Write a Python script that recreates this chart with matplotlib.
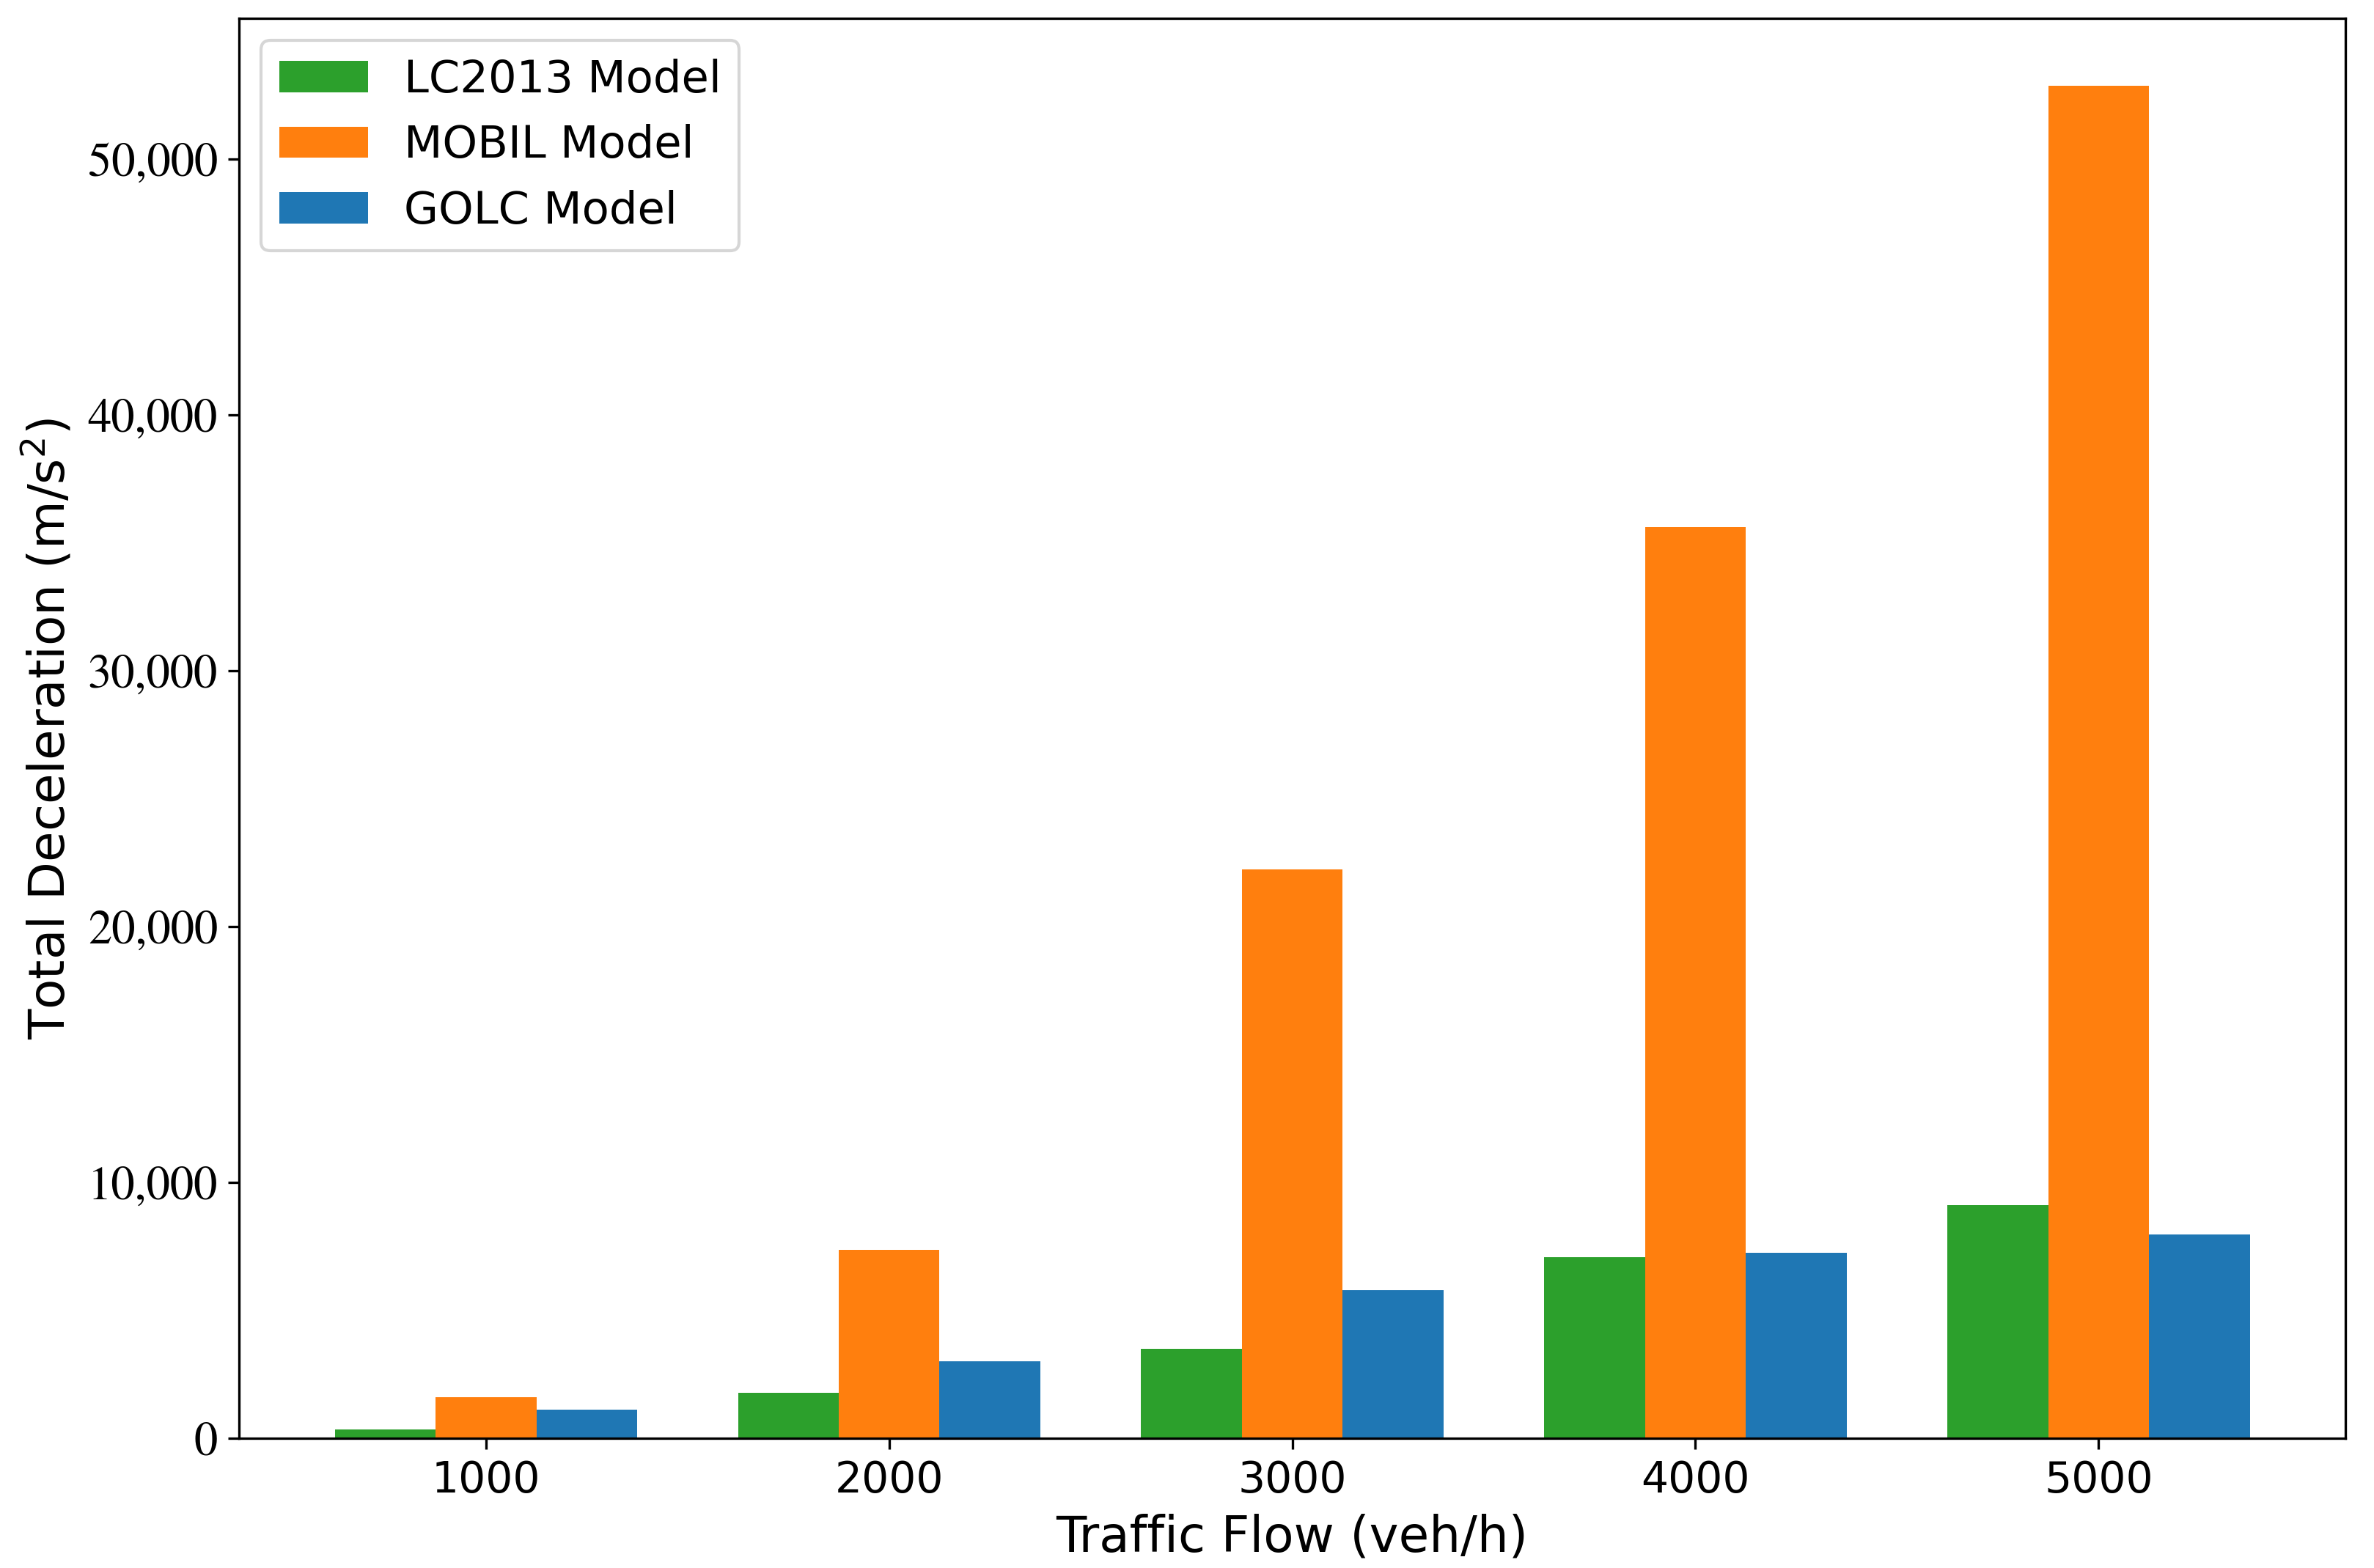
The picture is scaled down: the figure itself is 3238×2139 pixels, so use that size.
import matplotlib
matplotlib.use("Agg")
import matplotlib.pyplot as plt
import matplotlib.ticker as mticker
import numpy as np

flows = ["1000", "2000", "3000", "4000", "5000"]
lc2013 = [350, 1780, 3490, 7090, 9120]
mobil = [1610, 7360, 22230, 35620, 52870]
golc = [1125, 3010, 5790, 7260, 7980]

series_names = ["LC2013 Model", "MOBIL Model", "GOLC Model"]
colors = ["#2ca02c", "#ff7f0e", "#1f77b4"]

fig = plt.figure(figsize=(3238 / 300, 2139 / 300), dpi=300)
ax = fig.add_axes([0.1007, 0.0827, 0.988 - 0.1007, 0.9883 - 0.0827])

x = np.arange(len(flows))
w = 0.25
for i, (vals, name, c) in enumerate(zip([lc2013, mobil, golc], series_names, colors)):
    ax.bar(x + (i - 1) * w, vals, w, label=name, color=c)

ax.set_xticks(x)
ax.set_xticklabels(flows, fontsize=14)
ax.yaxis.set_major_formatter(mticker.FuncFormatter(lambda v, p: f"{v:,.0f}"))
ax.tick_params(axis="y", labelsize=15.5)

ax.set_xlabel("Traffic Flow (veh/h)", fontsize=16.2)
ax.set_ylabel("Total Deceleration (m/s$^2$)", fontsize=16.2)
ax.legend(loc="upper left", fontsize=14.6)

fig.canvas.draw()
for lab in ax.get_yticklabels():
    lab.set_fontfamily("STIXGeneral")
fig.savefig("out.png", dpi=300)
